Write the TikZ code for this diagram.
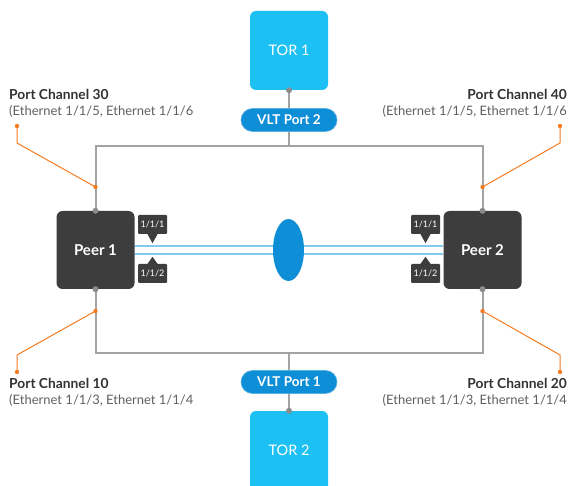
\documentclass[tikz,border=0pt]{standalone}
\usepackage{fontspec}
\setmainfont{Lato}
\usetikzlibrary{shapes.geometric}
\definecolor{torblue}{HTML}{1CC0F2}
\definecolor{vltblue}{HTML}{0E8ED6}
\definecolor{peergray}{HTML}{3D3D3D}
\definecolor{linegray}{HTML}{A3A3A3}
\definecolor{dotgray}{HTML}{8C8C8C}
\definecolor{linkblue}{HTML}{80CCEF}
\definecolor{orng}{HTML}{F57C22}
\definecolor{txtdark}{HTML}{333333}
\definecolor{txtgray}{HTML}{606060}
\tikzset{
  torbox/.style={fill=torblue, rounded corners=6pt, minimum width=78pt, minimum height=79pt, inner sep=0pt, text=white, font=\fontsize{14.5}{16}\selectfont},
  peerbox/.style={fill=peergray, rounded corners=6pt, minimum width=78pt, minimum height=78pt, inner sep=0pt, text=white, font=\bfseries\fontsize{15}{17}\selectfont},
  vltpill/.style={fill=vltblue, draw=vltblue!70!white, line width=0.6pt, rounded corners=11.5pt, minimum width=96pt, minimum height=23pt, inner sep=0pt, text=white, font=\bfseries\fontsize{13.5}{15}\selectfont},
  portlbl/.style={fill=peergray, rounded corners=1pt, minimum width=29pt, minimum height=19pt, inner sep=0pt, text=white, font=\fontsize{9}{10}\selectfont},
  bus/.style={draw=linegray, line width=2pt},
  link/.style={draw=linkblue, line width=1.6pt},
  callout/.style={draw=orng, line width=1pt},
  odot/.style={fill=orng},
  gdot/.style={fill=dotgray},
  pctext/.style={inner sep=0pt, font=\fontsize{13}{16}\selectfont, text=txtgray},
}
\newcommand{\pctitle}[1]{{\bfseries\fontsize{13.8}{16}\selectfont\color{txtdark}#1}}
\begin{document}
\begin{tikzpicture}[x=1pt,y=-1pt]
\useasboundingbox (0,0) rectangle (570,486);
\clip (0,0) rectangle (570,486);
\fill[white] (0,0) rectangle (570,486);

% nodes
\node[torbox] (tor1) at (289,50.5) {TOR 1};
\node[torbox, minimum height=84pt] (tor2) at (289,453) {};
\node[text=white, font=\fontsize{14.5}{16}\selectfont] (tor2txt) at (289,450) {TOR 2};
\node[vltpill] (vlt2) at (289,120) {VLT Port 2};
\node[vltpill] (vlt1) at (289,382) {VLT Port 1};
\node[peerbox] (peer1) at (95.5,250) {Peer 1};
\node[peerbox] (peer2) at (482.5,250) {Peer 2};

% coordinates of the buses
\coordinate (tl) at (95.5,146);
\coordinate (tr) at (482.5,146);
\coordinate (tm) at (289,146);
\coordinate (bl) at (95.5,353);
\coordinate (br) at (482.5,353);
\coordinate (bm) at (289,353);

% grey buses
\draw[bus] (peer1.north) -- (tl) -- (tr) -- (peer2.north);
\draw[bus] (peer1.south) -- (bl) -- (br) -- (peer2.south);
\draw[bus] (tor1.south) -- (vlt2.north);
\draw[bus] (vlt2.south) -- (tm);
\draw[bus] (bm) -- (vlt1.north);
\draw[bus] (vlt1.south) -- (tor2.north);

% grey dots
\foreach \p in {tor1.south, tor2.north, peer1.north, peer1.south, peer2.north, peer2.south}
  \fill[gdot] (\p) circle (3pt);

% blue ISL links
\draw[link] (peer1.east |- 0,246) -- (peer2.west |- 0,246);
\draw[link] (peer1.east |- 0,254) -- (peer2.west |- 0,254);
\node[ellipse, fill=vltblue, minimum width=31pt, minimum height=62pt, inner sep=0pt] (lag) at (288.5,250) {};

% port labels
\node[portlbl] (p1a) at (152.5,224.5) {1/1/1};
\node[portlbl] (p1b) at (152.5,273.5) {1/1/2};
\node[portlbl] (p2a) at (425.5,224.5) {1/1/1};
\node[portlbl] (p2b) at (425.5,273.5) {1/1/2};
\foreach \n in {p1a, p2a}
  \fill[peergray] ([xshift=-5pt]\n.south) -- ([xshift=5pt]\n.south) -- ([yshift=-9pt]\n.south) -- cycle;
\foreach \n in {p1b, p2b}
  \fill[peergray] ([xshift=-5pt]\n.north) -- ([xshift=5pt]\n.north) -- ([yshift=7pt]\n.north) -- cycle;

% port channel texts (base anchor = baseline of the second line)
\node[pctext, anchor=base west, align=left] (pc30) at (9,116) {\pctitle{Port Channel 30}\\(Ethernet 1/1/5, Ethernet 1/1/6};
\node[pctext, anchor=base east, align=right] (pc40) at (567,116) {\pctitle{Port Channel 40}\\(Ethernet 1/1/5, Ethernet 1/1/6};
\node[pctext, anchor=base west, align=left] (pc10) at (9,404) {\pctitle{Port Channel 10}\\(Ethernet 1/1/3, Ethernet 1/1/4};
\node[pctext, anchor=base east, align=right] (pc20) at (567,404) {\pctitle{Port Channel 20}\\(Ethernet 1/1/3, Ethernet 1/1/4};

% callout coordinates
\coordinate (c30s) at (17,126);  \coordinate (c30k) at (17,143);  \coordinate (c30e) at (95.5,187);
\coordinate (c40s) at (560,126); \coordinate (c40k) at (560,143); \coordinate (c40e) at (482.5,187);
\coordinate (c10s) at (17,372);  \coordinate (c10k) at (17,355);  \coordinate (c10e) at (95.5,311);
\coordinate (c20s) at (560,372); \coordinate (c20k) at (560,355); \coordinate (c20e) at (482.5,311);

\foreach \c in {30,40,10,20}{
  \draw[callout] (c\c s) -- (c\c k) -- (c\c e);
  \fill[odot] (c\c s) circle (2.2pt);
  \fill[odot] (c\c e) circle (2.2pt);
}
\end{tikzpicture}
\end{document}
